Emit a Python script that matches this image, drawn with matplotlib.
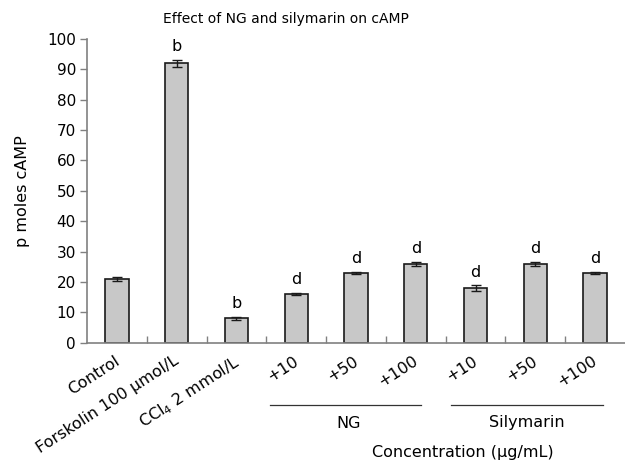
import matplotlib
matplotlib.use("Agg")
import matplotlib.pyplot as plt
import matplotlib.transforms as mtransforms

categories = ["Control", "Forskolin 100 \u03bcmol/L", "CCl$_4$ 2 mmol/L",
              "+10", "+50", "+100", "+10", "+50", "+100"]
values = [21, 92, 8, 16, 23, 26, 18, 26, 23]
errors = [0.7, 1.2, 0.5, 0.4, 0.4, 0.7, 0.9, 0.7, 0.4]
letters = ["", "b", "b", "d", "d", "d", "d", "d", "d"]
yticks = [0, 10, 20, 30, 40, 50, 60, 70, 80, 90, 100]
groups = ["NG", "Silymarin"]
group_spans = [(2.56, 5.09), (5.59, 8.14)]
group_label_x = [3.87, 6.85]

plt.rcParams['font.family'] = ['DejaVu Sans']
fig = plt.figure(figsize=(6.25, 4.63), dpi=100)
ax = fig.add_axes([87/625, 1-342.7/463, 1-87/625, (342.7-39)/463])

x = list(range(len(values)))
ax.bar(x, values, width=0.39, color="#c8c8c8", edgecolor="#1a1a1a", linewidth=1.2, zorder=2)
ax.errorbar(x, values, yerr=errors, fmt='none', ecolor="#1a1a1a", elinewidth=1.0,
            capsize=3.5, capthick=1.0, zorder=3)
for xi, v, e, l in zip(x, values, errors, letters):
    if l:
        ax.annotate(l, (xi, v + e), xytext=(0, 4), textcoords='offset points',
                    ha='center', va='bottom', fontsize=11.5)

ax.set_xlim(-0.5, 8.5)
ax.set_ylim(0, 100)
ax.set_yticks(yticks)
ax.tick_params(axis='y', direction='out', length=5, width=1, color="#808080", labelsize=11, pad=3)
ax.set_xticks(x)
ax.set_xticklabels(categories, rotation=33, ha='right', rotation_mode='anchor', fontsize=11.5)
ax.tick_params(axis='x', which='major', length=0, pad=4)
for lab in ax.get_xticklabels():
    lab.set_transform(lab.get_transform() + mtransforms.ScaledTranslation(-3/100, -5/100, fig.dpi_scale_trans))
ax.set_xticks([i + 0.5 for i in range(8)], minor=True)
ax.tick_params(axis='x', which='minor', direction='in', length=5, width=1, color="#808080")
for s in ['top', 'right']:
    ax.spines[s].set_visible(False)
for s in ['left', 'bottom']:
    ax.spines[s].set_color("#808080")
    ax.spines[s].set_linewidth(1.2)

ax.set_ylabel("p moles cAMP", fontsize=11.5, labelpad=12)

trans = mtransforms.blended_transform_factory(ax.transData, fig.transFigure)
for (a, b), name, lx in zip(group_spans, groups, group_label_x):
    ax.plot([a, b], [1 - 405/463, 1 - 405/463], transform=trans, color="#333333",
            linewidth=0.9, clip_on=False)
    ax.text(lx, 1 - 423/463, name, transform=trans, ha='center', va='center', fontsize=11.5)
ax.text(5.79, 1 - 452/463, "Concentration (\u03bcg/mL)", transform=trans,
        ha='center', va='center', fontsize=11.5)

fig.text(286/625, 1 - 19/463, "Effect of NG and silymarin on cAMP", ha='center',
         va='center', fontsize=10)

fig.savefig("out.png", dpi=100)
